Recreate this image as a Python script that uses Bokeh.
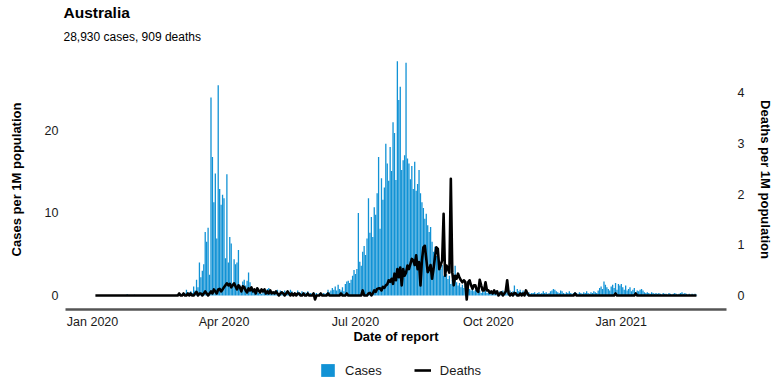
import pandas as pd
from bokeh.plotting import figure
from bokeh.layouts import column
from bokeh.models import (Range1d, LinearAxis, FixedTicker, DatetimeTickFormatter,
                          Legend, LegendItem, Title, ColumnDataSource)
from bokeh.embed import file_html
from bokeh.resources import INLINE

title_text = "Australia"
subtitle_text = "28,930 cases, 909 deaths"
x_label = "Date of report"
y_label_left = "Cases per 1M population"
y_label_right = "Deaths per 1M population"
legend_labels = ["Cases", "Deaths"]
start_date = "2020-01-03"

tick_dates = ["2020-01-01", "2020-04-01", "2020-07-01", "2020-10-01", "2021-01-01"]
tick_labels = ["Jan 2020", "Apr 2020", "Jul 2020", "Oct 2020", "Jan 2021"]
cases_ticks = [0, 10, 20]
deaths_ticks = [0, 1, 2, 3, 4]

# daily cases per 1M population
cases_2020_01 = [0, 0, 0, 0, 0, 0, 0, 0, 0, 0, 0, 0, 0, 0, 0, 0, 0, 0, 0, 0, 0, 0,
                 0.16, 0.04, 0.04, 0, 0.04, 0.08, 0.04]
cases_2020_02 = [0.04, 0, 0.04, 0, 0, 0, 0, 0, 0, 0, 0, 0, 0, 0, 0, 0, 0, 0, 0, 0,
                 0.04, 0, 0.04, 0, 0.04, 0, 0.04, 0.08, 0.1]
cases_2020_03 = [0.1, 0.2, 0.1, 0.2, 0.3, 0.7, 0.2, 0.4, 0.5, 0.3, 1.1, 0.6, 1.9, 1.0, 4.0,
                 2.2, 3.0, 3.8, 7.7, 6.5, 8.2, 2.5, 24.0, 16.8, 11.3, 14.8, 6.9, 25.5, 12.9,
                 11.0, 12.2]
cases_2020_04 = [11.8, 4.5, 14.7, 4.0, 7.1, 6.3, 1.4, 4.4, 3.8, 4.0, 5.5, 1.3, 0.9, 1.7, 1.9,
                 1.2, 1.8, 2.8, 1.6, 0.7, 0.5, 0.6, 0.4, 0.8, 0.3, 0.5, 0.2, 0.6, 0.4, 0.3]
cases_2020_05 = [0.8, 0.9, 0.6, 0.4, 0.3, 0.5, 0.4, 0.7, 0.3, 0.6, 0.5, 0.4, 0.6, 0.3, 0.2,
                 0.4, 0.7, 0.5, 0.3, 0.4, 0.2, 0.6, 0.4, 0.3, 0.5, 0.2, 0.4, 0.3, 0.5, 0.2, 0.3]
cases_2020_06 = [0.2, 0.4, 0.2, 0.3, 0.1, 0.3, 0.2, 0.1, 0.3, 0.2, 0.3, 0.7, 0.4, 0.6, 0.9,
                 0.7, 1.1, 0.6, 1.3, 0.8, 0.6, 1.0, 0.5, 1.4, 1.7, 1.8, 1.5, 1.9, 2.4, 3.1]
cases_2020_07 = [2.6, 3.2, 10.0, 4.1, 3.6, 5.3, 6.0, 4.9, 6.9, 11.8, 7.6, 9.5, 7.1, 10.7, 9.8,
                 12.4, 16.8, 8.1, 14.2, 11.6, 13.1, 18.4, 16.0, 13.9, 18.0, 15.1, 21.0, 19.7,
                 14.0, 28.4, 23.7]
cases_2020_08 = [25.3, 15.2, 16.4, 17.0, 28.2, 16.6, 16.0, 14.1, 15.7, 12.9, 16.2, 12.7, 13.5,
                 15.2, 12.4, 11.3, 10.6, 9.3, 9.9, 8.5, 7.7, 8.3, 6.5, 5.3, 5.9, 4.8, 5.5, 4.2,
                 3.2, 3.7, 2.4]
cases_2020_09 = [3.2, 2.6, 2.0, 2.4, 1.4, 1.9, 1.2, 3.6, 1.6, 1.2, 1.5, 1.0, 1.3, 0.9, 1.2,
                 0.7, 1.0, 0.8, 0.6, 0.9, 0.5, 0.7, 0.6, 0.4, 0.6, 0.3, 0.5, 0.4, 0.6, 0.3]
cases_2020_10 = [0.4, 0.3, 0.5, 0.2, 0.4, 0.3, 0.6, 0.3, 0.5, 0.4, 0.6, 0.3, 0.7, 0.5, 0.4,
                 0.6, 0.3, 0.5, 1.2, 0.4, 0.8, 0.5, 0.7, 0.4, 0.6, 0.3, 0.5, 0.3, 0.4, 0.2, 0.3]
cases_2020_11 = [0.3, 0.4, 0.2, 0.3, 0.4, 0.2, 0.3, 0.5, 0.3, 0.4, 0.2, 0.3, 0.5, 0.6, 0.8,
                 0.7, 0.5, 0.4, 0.3, 0.6, 0.5, 0.3, 0.2, 0.4, 0.3, 0.5, 0.3, 0.2, 0.3, 0.4]
cases_2020_12 = [0.3, 0.2, 0.4, 0.3, 0.2, 0.4, 0.3, 0.5, 0.3, 0.2, 0.4, 0.3, 0.5, 0.4, 0.3,
                 0.6, 0.9, 1.1, 0.8, 1.7, 1.3, 1.0, 0.8, 0.6, 1.1, 1.3, 0.9, 1.5, 0.7, 1.4, 1.2]
cases_2021_01 = [1.4, 1.0, 0.7, 1.2, 0.6, 0.8, 1.0, 0.5, 0.7, 0.9, 0.4, 0.6, 0.5, 0.7, 0.8,
                 0.6, 0.4, 0.3, 0.4, 0.3, 0.2, 0.4, 0.3, 0.2, 0.3, 0.2, 0.3, 0.2, 0.1, 0.3, 0.2]
cases_2021_02 = [0.2, 0.1, 0.3, 0.2, 0.1, 0.2, 0.3, 0.2, 0.1, 0.2, 0.3, 0.4, 0.2, 0.3, 0.2,
                 0.1, 0.2, 0.1, 0.2, 0.1, 0.2, 0.1]

# daily deaths per 1M population
deaths_2020_01 = [0] * 29
deaths_2020_02 = [0] * 29
deaths_2020_03 = [0.04, 0, 0, 0.04, 0, 0, 0.04, 0, 0.04, 0, 0, 0.04, 0.07, 0, 0.04, 0.04, 0,
                  0.04, 0.08, 0.04, 0, 0.04, 0.08, 0.04, 0.12, 0.08, 0.04, 0.12, 0.13, 0.08, 0.12]
deaths_2020_04 = [0.16, 0.2, 0.24, 0.2, 0.23, 0.16, 0.2, 0.24, 0.18, 0.12, 0.2, 0.16, 0.08,
                  0.18, 0.16, 0.1, 0.06, 0.14, 0.1, 0.16, 0.08, 0.12, 0.04, 0.14, 0.1, 0.06,
                  0.12, 0.08, 0.12, 0.04]
deaths_2020_05 = [0.08, 0.04, 0.1, 0.04, 0.06, 0.04, 0.08, 0.04, 0, 0.04, 0.06, 0.04, 0, 0.04,
                  0.08, 0.04, 0, 0.04, 0, 0.04, 0, 0.04, 0.04, 0, 0, 0.04, 0, 0, 0.04, 0, 0]
deaths_2020_06 = [0, 0.04, -0.08, 0, 0, 0, 0.04, 0, 0, 0, 0, 0.04, 0, 0, 0, 0, 0, 0, 0, 0,
                  0.04, 0, 0, 0, 0.04, 0, 0, 0, 0, 0]
deaths_2020_07 = [0, 0, 0, 0, 0, 0.1, 0, 0, 0, 0.04, 0.05, 0, 0.04, 0.1, 0.07, 0.13, 0.14,
                  0.14, 0.1, 0.17, 0.15, 0.2, 0.22, 0.3, 0.27, 0.33, 0.23, 0.43, 0.3, 0.52, 0.36]
deaths_2020_08 = [0.55, 0.2, 0.52, 0.39, 0.45, 0.59, 0.52, 0.62, 0.72, 0.69, 0.6, 0.79, 0.52,
                  0.66, 0.2, 0.69, 0.95, 0.98, 0.72, 0.46, 0.52, 0.6, 0.33, 0.52, 0.75, 0.95,
                  0.92, 0.52, 0.6, 0.69, 1.61]
deaths_2020_09 = [0.39, 0.59, 0.52, 0.45, 2.30, 0.46, 0.2, 0.39, 0.33, 0.43, 0.35, 0.3, 0.26,
                  0.3, 0.27, -0.08, 0.26, 0.3, 0.2, 0.13, 0.2, 0.2, 0.1, 0.07, 0.31, 0.2, 0.1,
                  0.1, 0.26, 0.1]
deaths_2020_10 = [0.1, 0.05, 0.08, 0.04, 0.1, 0.04, 0.08, 0, 0.04, 0.06, 0, 0.04, 0.08, 0.3,
                  0.04, 0, 0.04, 0, 0.05, 0.04, 0, 0, 0.04, 0, 0.04, 0, 0.1, 0.04, 0, 0, 0]
deaths_2020_11 = [0, 0, 0, 0, 0, 0, 0, 0, 0, 0, 0, 0, 0, 0, 0, 0, 0, 0, 0, 0, 0, 0, 0, 0, 0,
                  0, 0, 0, 0, 0.04]
deaths_2020_12 = [0, 0, 0, 0, 0, 0, 0, 0, 0, 0, 0, 0, 0, 0, 0, 0, 0, 0, 0, 0, 0, 0, 0, 0, 0,
                  0, 0, 0.04, 0, 0, 0]
deaths_2021_01 = [0, 0, 0, 0, 0, 0, 0, 0, 0, 0, 0.04, 0, 0, 0, 0, 0, 0, 0, 0, 0, 0, 0, 0, 0,
                  0, 0, 0, 0, 0, 0, 0]
deaths_2021_02 = [0] * 22

cases = (cases_2020_01 + cases_2020_02 + cases_2020_03 + cases_2020_04 + cases_2020_05 +
         cases_2020_06 + cases_2020_07 + cases_2020_08 + cases_2020_09 + cases_2020_10 +
         cases_2020_11 + cases_2020_12 + cases_2021_01 + cases_2021_02)
deaths = (deaths_2020_01 + deaths_2020_02 + deaths_2020_03 + deaths_2020_04 + deaths_2020_05 +
          deaths_2020_06 + deaths_2020_07 + deaths_2020_08 + deaths_2020_09 + deaths_2020_10 +
          deaths_2020_11 + deaths_2020_12 + deaths_2021_01 + deaths_2021_02)
n = min(len(cases), len(deaths))
dates = pd.date_range(start_date, periods=n, freq="D")
source = ColumnDataSource(data=dict(date=dates, cases=cases[:n], deaths=deaths[:n]))

DAY = 86400000
t0 = pd.Timestamp("2020-01-01").value // 10**6
FONT = "Liberation Sans"
BAR_COLOR = "#1192d5"
TEXT_COLOR = "#1a1a1a"

p = figure(width=784, height=350, x_axis_type="datetime", output_backend="svg",
           toolbar_location=None,
           x_range=Range1d(t0 - 18.7 * DAY, t0 + 438.8 * DAY),
           y_range=Range1d(-1.70, 29.82),
           min_border_left=65, min_border_right=58, min_border_top=49, min_border_bottom=41)
p.extra_y_ranges = {"deaths": Range1d(-1.70 / 6.15, 29.82 / 6.15)}

bars = p.vbar(x="date", top="cases", width=0.9 * DAY, source=source,
              fill_color=BAR_COLOR, line_color=None)
line = p.line(x="date", y="deaths", source=source, y_range_name="deaths",
              line_color="black", line_width=2.6, line_join="round")

p.grid.visible = False
p.outline_line_color = None

tick_ms = [pd.Timestamp(d).value // 10**6 for d in tick_dates]
xa = p.xaxis[0]
xa.ticker = FixedTicker(ticks=tick_ms)
xa.major_label_overrides = {t: lab for t, lab in zip(tick_ms, tick_labels)}
xa.formatter = DatetimeTickFormatter(days="%b %Y", months="%b %Y", years="%b %Y")
xa.axis_label = x_label
xa.axis_line_color = "#555555"
xa.axis_line_width = 2.5
xa.major_tick_line_color = None
xa.minor_tick_line_color = None
xa.major_tick_out = 0
xa.major_tick_in = 0
xa.minor_tick_out = 0
xa.major_label_standoff = 5
xa.axis_label_standoff = -3
xa.major_label_text_font = FONT
xa.major_label_text_font_size = "12.5px"
xa.major_label_text_color = TEXT_COLOR
xa.axis_label_text_font = FONT
xa.axis_label_text_font_size = "13px"
xa.axis_label_text_font_style = "bold"
xa.axis_label_text_color = "black"

ya = p.yaxis[0]
ya.ticker = FixedTicker(ticks=cases_ticks)
ya.axis_label = y_label_left
ra = LinearAxis(y_range_name="deaths", ticker=FixedTicker(ticks=deaths_ticks),
                axis_label=y_label_right)
p.add_layout(ra, "right")
for ax, ls, als in ((ya, 7, 18), (ra, 11, 11)):
    ax.axis_line_color = None
    ax.major_tick_line_color = None
    ax.minor_tick_line_color = None
    ax.major_tick_out = 0
    ax.major_tick_in = 0
    ax.minor_tick_out = 0
    ax.major_label_standoff = ls
    ax.axis_label_standoff = als
    ax.major_label_text_font = FONT
    ax.major_label_text_font_size = "12.5px"
    ax.major_label_text_color = TEXT_COLOR
    ax.axis_label_text_font = FONT
    ax.axis_label_text_font_size = "13px"
    ax.axis_label_text_font_style = "bold"
    ax.axis_label_text_color = "black"

sub = Title(text=subtitle_text, align="left", text_font=FONT, text_font_size="12px",
            text_font_style="normal", text_color="black", standoff=11, offset=-2)
main = Title(text=title_text, align="left", text_font=FONT, text_font_size="15.5px",
             text_font_style="bold", text_color="black", standoff=3, offset=-2)
p.add_layout(sub, "above")
p.add_layout(main, "above")

# legend strip under the chart (its frame lines up with the chart's frame);
# its y range sits far above the data so the sample glyphs draw nothing in it
q = figure(width=784, height=40, output_backend="svg", toolbar_location=None,
           x_range=p.x_range, y_range=Range1d(100, 101),
           x_axis_location=None, y_axis_location=None, min_border=0)
q.grid.visible = False
q.outline_line_color = None
lg_bar = q.vbar(x="date", top="cases", width=0.9 * DAY, source=source,
                fill_color=BAR_COLOR, line_color=None)
lg_line = q.line(x="date", y="deaths", source=source, line_color="black", line_width=2.6)
legend = Legend(items=[LegendItem(label=legend_labels[0], renderers=[lg_bar]),
                       LegendItem(label=legend_labels[1], renderers=[lg_line])],
                orientation="horizontal", location=(254, 12),
                glyph_width=17, glyph_height=16, label_height=16, label_standoff=9,
                spacing=32, padding=0, margin=0,
                label_text_font=FONT, label_text_font_size="13px", label_text_color=TEXT_COLOR,
                background_fill_alpha=0, border_line_color=None)
q.add_layout(legend, "center")

open("out.html", "w").write(file_html(column(p, q), INLINE))
